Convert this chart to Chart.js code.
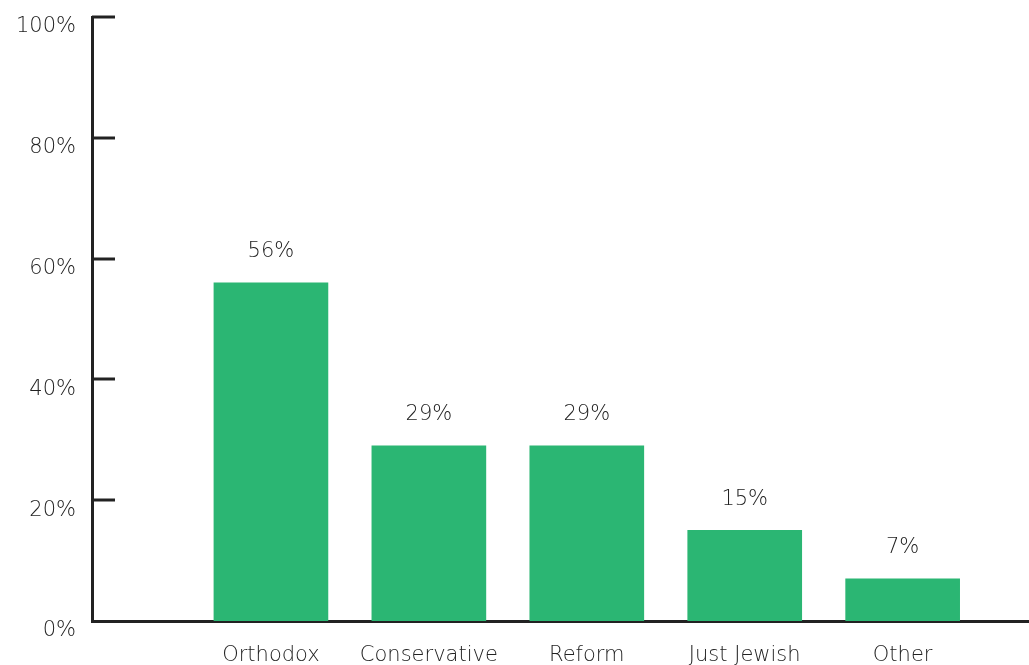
<!DOCTYPE html>
<html>
<head>
<meta charset="utf-8">
<script src="https://cdn.jsdelivr.net/npm/chart.js@4"></script>
<style>
  html, body { margin: 0; padding: 0; background: #fff; }
  #wrap { width: 1029px; height: 665px; }
</style>
</head>
<body>
<div id="wrap"><canvas id="myChart"></canvas></div>
<script>
const categories = ['Orthodox', 'Conservative', 'Reform', 'Just Jewish', 'Other'];
const shares = [56, 29, 29, 15, 7];
const yTicks = [0, 20, 40, 60, 80, 100];

const textColor = '#222222';
const fontFamily = '"DejaVu Sans", sans-serif';

// short inward tick marks on the y axis + value labels over bars
const extras = {
  id: 'extras',
  afterDatasetsDraw(chart) {
    const ctx = chart.ctx;
    const y = chart.scales.y;
    const left = chart.chartArea.left;
    ctx.save();
    ctx.strokeStyle = '#222';
    ctx.lineWidth = 3;
    yTicks.forEach(v => {
      if (v === 0) return;
      const py = Math.round(y.getPixelForValue(v));
      ctx.beginPath();
      ctx.moveTo(left, py);
      ctx.lineTo(left + 23, py);
      ctx.stroke();
    });
    ctx.fillStyle = textColor;
    ctx.font = '200 21px ' + fontFamily;
    ctx.textAlign = 'center';
    ctx.textBaseline = 'middle';
    chart.getDatasetMeta(0).data.forEach((bar, i) => {
      ctx.fillText(shares[i] + '%', bar.x, bar.y - 31);
    });
    ctx.restore();
  }
};

window.addEventListener('load', function () {
  const ctx = document.getElementById('myChart');
  new Chart(ctx, {
    type: 'bar',
    data: {
      datasets: [{
        data: categories.map((c, i) => ({ x: i + 1, y: shares[i] })),
        backgroundColor: '#2bb673',
        barThickness: 114
      }]
    },
    options: {
      responsive: true,
      maintainAspectRatio: false,
      animation: false,
      layout: { padding: { top: 17, right: 0, bottom: 0, left: 0 } },
      plugins: { legend: { display: false }, tooltip: { enabled: false } },
      scales: {
        x: {
          type: 'linear',
          offset: false,
          min: -0.133,
          max: 5.8,
          grid: { display: false, drawTicks: false, offset: false },
          border: { display: true, color: '#222', width: 3 },
          afterBuildTicks: s => { s.ticks = categories.map((c, i) => ({ value: i + 1 })); },
          afterFit: s => { s.height = 44; },
          ticks: {
            padding: 22,
            maxRotation: 0,
            autoSkip: false,
            color: textColor,
            font: { family: fontFamily, size: 21, weight: '200' },
            callback: v => categories[v - 1] || ''
          }
        },
        y: {
          min: 0,
          max: 100,
          grid: { display: false, drawTicks: false },
          border: { display: true, color: '#222', width: 3 },
          afterBuildTicks: s => { s.ticks = yTicks.map(v => ({ value: v })); },
          afterFit: s => { s.width = 92; s.paddingTop = 0; s.paddingBottom = 0; },
          ticks: {
            padding: 16,
            labelOffset: 10,
            color: textColor,
            font: { family: fontFamily, size: 21, weight: '200' },
            callback: v => v + '%'
          }
        }
      }
    },
    plugins: [extras]
  });
});
</script>
</body>
</html>
